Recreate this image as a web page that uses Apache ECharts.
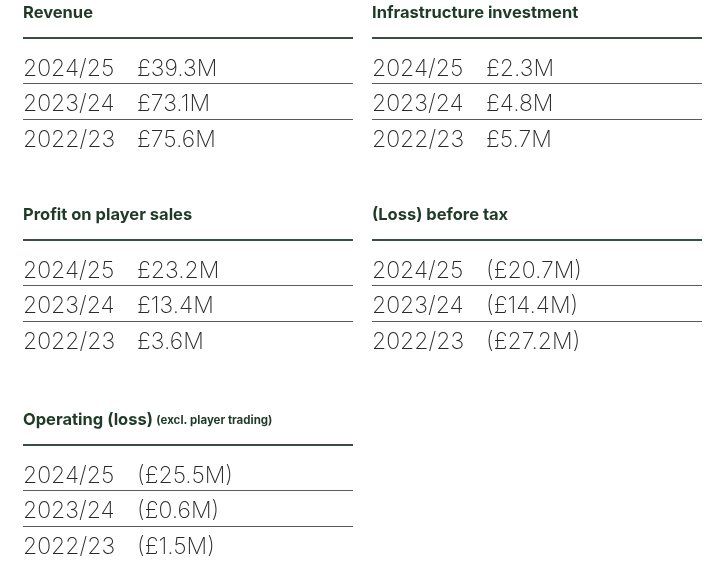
<!DOCTYPE html>
<html>
<head>
<meta charset="utf-8">
<script src="https://cdn.jsdelivr.net/npm/echarts@6/dist/echarts.min.js"></script>
<style>
html,body{margin:0;padding:0;background:#fff;}
#main{width:720px;height:572px;}
</style>
</head>
<body>
<div id="main"></div>
<script>
// ---- data ----
var years = ['2024/25', '2023/24', '2022/23'];
var revenue = [39.3, 73.1, 75.6];
var infrastructure = [2.3, 4.8, 5.7];
var profitPlayerSales = [23.2, 13.4, 3.6];
var lossBeforeTax = [-20.7, -14.4, -27.2];
var operatingLoss = [-25.5, -0.6, -1.5];
var panelTitles = ['Revenue', 'Infrastructure investment', 'Profit on player sales', '(Loss) before tax', 'Operating (loss)'];
var panelSubtitles = ['', '', '', '', '(excl. player trading)'];

// ---- layout ----
var panels = [
  {values: revenue, col: 0, row: 0},
  {values: infrastructure, col: 1, row: 0},
  {values: profitPlayerSales, col: 0, row: 1},
  {values: lossBeforeTax, col: 1, row: 1},
  {values: operatingLoss, col: 0, row: 2}
];
var colX = [23, 372];
var colW = 330;
var rowY = [13, 215, 420];
var titleColor = '#1f3a26';
var textColor = '#2a2a2a';
var numFont = 'Inter';

function fmt(v) {
  var s = '£' + Math.abs(v).toFixed(1) + 'M';
  return v < 0 ? '(' + s + ')' : s;
}

var elements = [];
panels.forEach(function (p, i) {
  var x0 = colX[p.col], y0 = rowY[p.row];
  var title = panelTitles[i];
  var sub = panelSubtitles[i];
  elements.push({
    type: 'text',
    x: x0, y: y0 + 0.5,
    style: {
      text: sub ? '{t|' + title + '} {s|' + sub + '}' : '{t|' + title + '}',
      verticalAlign: 'middle',
      rich: {
        t: {fontFamily: 'Inter', fontWeight: 700, fontSize: 16.5, fill: titleColor},
        s: {fontFamily: 'Inter', fontWeight: 700, fontSize: 11.5, fill: titleColor}
      }
    }
  });
  elements.push({
    type: 'line',
    shape: {x1: x0, y1: y0 + 25, x2: x0 + colW, y2: y0 + 25},
    style: {stroke: '#3b4d41', lineWidth: 2}
  });
  var rowOff = [56, 91, 127];
  var lineOff = [70.5, 106.5];
  years.forEach(function (yr, j) {
    elements.push({
      type: 'text', x: x0, y: y0 + rowOff[j],
      style: {text: yr, fontFamily: numFont, fontWeight: 200, fontSize: 23, fill: textColor, verticalAlign: 'middle'}
    });
    elements.push({
      type: 'text', x: x0 + 114, y: y0 + rowOff[j],
      style: {text: fmt(p.values[j]), fontFamily: numFont, fontWeight: 200, fontSize: 23, fill: textColor, verticalAlign: 'middle'}
    });
  });
  lineOff.forEach(function (lo) {
    elements.push({
      type: 'line',
      shape: {x1: x0, y1: y0 + lo, x2: x0 + colW, y2: y0 + lo},
      style: {stroke: '#5a5a5a', lineWidth: 1}
    });
  });
});

var chart = echarts.init(document.getElementById('main'), null, {renderer: 'canvas'});
chart.setOption({
  backgroundColor: '#ffffff',
  animation: false,
  graphic: {elements: elements}
});
</script>
</body>
</html>
